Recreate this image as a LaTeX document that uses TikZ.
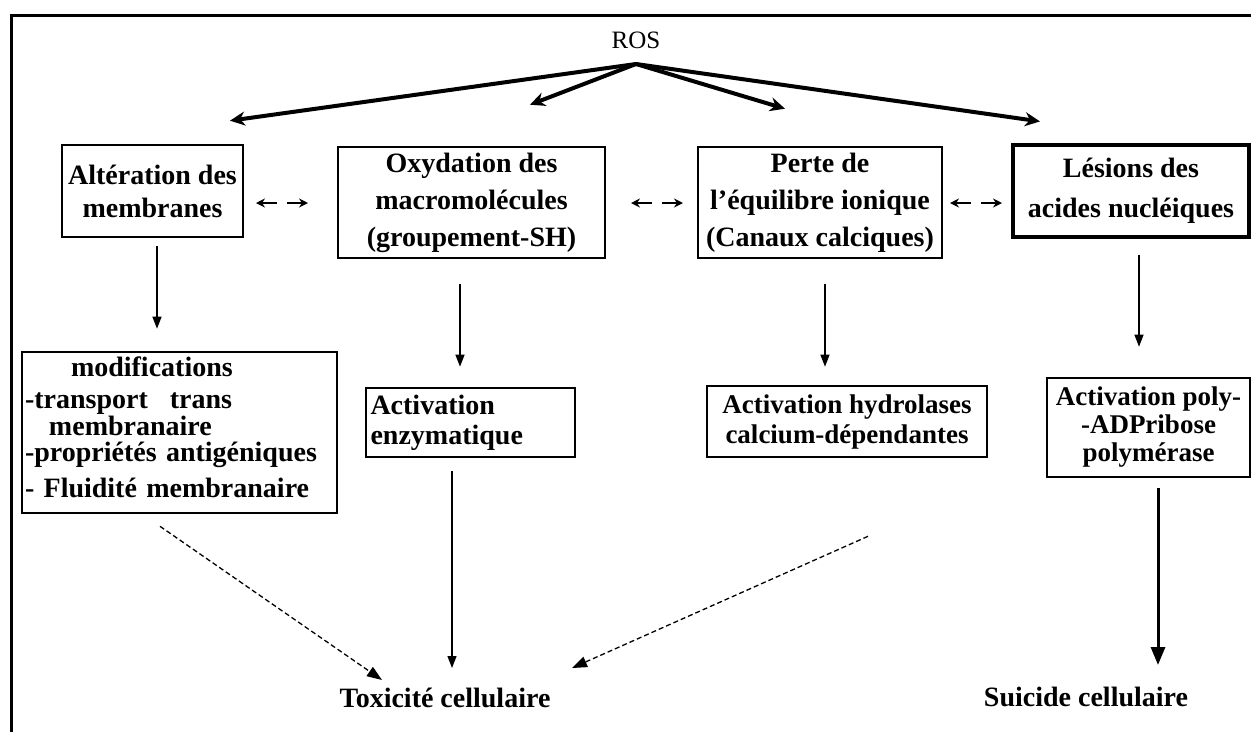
\documentclass[tikz,border=0pt]{standalone}
\usepackage{fontspec}
\setmainfont{Liberation Serif}
\usetikzlibrary{arrows.meta}
\begin{document}
\begin{tikzpicture}[x=1pt,y=-1pt,
  box/.style={draw, line width=2.6pt, inner sep=0pt, align=center,
    font=\bfseries\fontsize{28}{34}\selectfont},
  lbl/.style={inner sep=0pt, font=\bfseries\fontsize{28}{34}\selectfont},
  rosarrow/.style={line width=4pt, -{Stealth[length=15pt,width=14pt]}},
  thinarrow/.style={line width=1.3pt, -{Triangle[length=12pt,width=9pt]}},
  dasharrow/.style={line width=1.3pt, dash pattern=on 5pt off 3pt, -{Triangle[length=15pt,width=11pt]}},
  thickarrow/.style={line width=3pt, -{Triangle[length=18pt,width=14pt]}},
  halfarrow/.style={line width=2pt, -{Stealth[length=9pt,width=9pt]}}
]
\useasboundingbox (0,0) rectangle (1251,732);
% frame
\draw[line width=3pt] (1251,15) -- (11,15) -- (11,732);

% nodes
\node[inner sep=0pt, font=\fontsize{25}{30}\selectfont] (ros) at (636,40) {ROS};

\node[box, minimum width=181pt, minimum height=92pt, font=\bfseries\fontsize{28}{33}\selectfont]
  (b1) at (152.5,191) {Altération des\\membranes};
\node[box, minimum width=267pt, minimum height=111pt, font=\bfseries\fontsize{28}{37}\selectfont]
  (b2) at (471.5,202.5) {Oxydation des\\macromolécules\\(groupement-SH)};
\node[box, minimum width=244pt, minimum height=111pt, font=\bfseries\fontsize{28}{37}\selectfont]
  (b3) at (820,202.5) {Perte de\\l'équilibre ionique\\(Canaux calciques)};
\node[box, line width=3.2pt, minimum width=236pt, minimum height=92pt, font=\bfseries\fontsize{28}{40}\selectfont]
  (b4) at (1131,191) {Lésions des\\acides nucléiques};

\node[box, minimum width=315pt, minimum height=161pt, text width=309pt, align=left,
  font=\bfseries\fontsize{28}{30}\selectfont]
  (b5) at (179.5,432.5) {\rule[-12pt]{0pt}{0pt}\hspace*{46pt}modifications\\[2pt]
    -transport\hspace{22pt}trans\\[-3pt]
    \hspace*{24pt}membranaire\\[-4pt]
    -propriétés antigéniques\\[6pt]
    - Fluidité membranaire\rule[-10pt]{0pt}{0pt}};
\node[box, minimum width=209pt, minimum height=69pt, text width=200pt, align=left,
  font=\bfseries\fontsize{28}{30}\selectfont]
  (b6) at (470.5,422.5) {Activation\\enzymatique};
\node[box, minimum width=280pt, minimum height=71pt, font=\bfseries\fontsize{27}{30}\selectfont]
  (b7) at (847,421.5) {Activation hydrolases\\calcium-dépendantes};
\node[box, minimum width=203pt, minimum height=99pt, font=\bfseries\fontsize{27}{28}\selectfont]
  (b8) at (1148.5,427.5) {Activation poly-\\-ADPribose\\polymérase};

\node[lbl] (tox) at (445,698) {Toxicité cellulaire};
\node[lbl] (sui) at (1086,697) {Suicide cellulaire};

% ROS arrows
\draw[rosarrow] ([shift={(0,24)}]ros.center) -- ([shift={(77.5,-23)}]b1.north);
\draw[rosarrow] ([shift={(0,24)}]ros.center) -- ([shift={(58.5,-41)}]b2.north);
\draw[rosarrow] ([shift={(0,24)}]ros.center) -- ([shift={(-35,-37)}]b3.north);
\draw[rosarrow] ([shift={(0,24)}]ros.center) -- ([shift={(-91,-22)}]b4.north);

% double arrows between boxes
\coordinate (g1) at (282,203);
\coordinate (g2) at (657,203);
\coordinate (g3) at (976,203);
\foreach \g in {g1,g2,g3}{
  \draw[halfarrow] ([shift={(-5,0)}]\g) -- ([shift={(-26,0)}]\g);
  \draw[halfarrow] ([shift={(5,0)}]\g) -- ([shift={(26,0)}]\g);
}

% vertical arrows
\draw[thinarrow] ([shift={(4.5,8)}]b1.south) -- ([shift={(-22.5,-22)}]b5.north);
\draw[thinarrow] ([shift={(-11.5,24.5)}]b2.south) -- ([shift={(-10.5,-20)}]b6.north);
\draw[thinarrow] ([shift={(5,24.5)}]b3.south) -- ([shift={(-22,-18)}]b7.north);
\draw[thinarrow] ([shift={(8,16)}]b4.south) -- ([shift={(-9.5,-30)}]b8.north);

% bottom arrows
\draw[dasharrow] ([shift={(-19.5,12)}]b5.south) -- ([shift={(-63,-18)}]tox.center);
\draw[thinarrow] ([shift={(-18.5,13)}]b6.south) -- ([shift={(7,-30)}]tox.center);
\draw[dasharrow] ([shift={(21,78)}]b7.south) -- ([shift={(127,-30)}]tox.center);
\draw[thickarrow] ([shift={(9.5,10)}]b8.south) -- ([shift={(72,-32)}]sui.center);
\end{tikzpicture}
\end{document}
